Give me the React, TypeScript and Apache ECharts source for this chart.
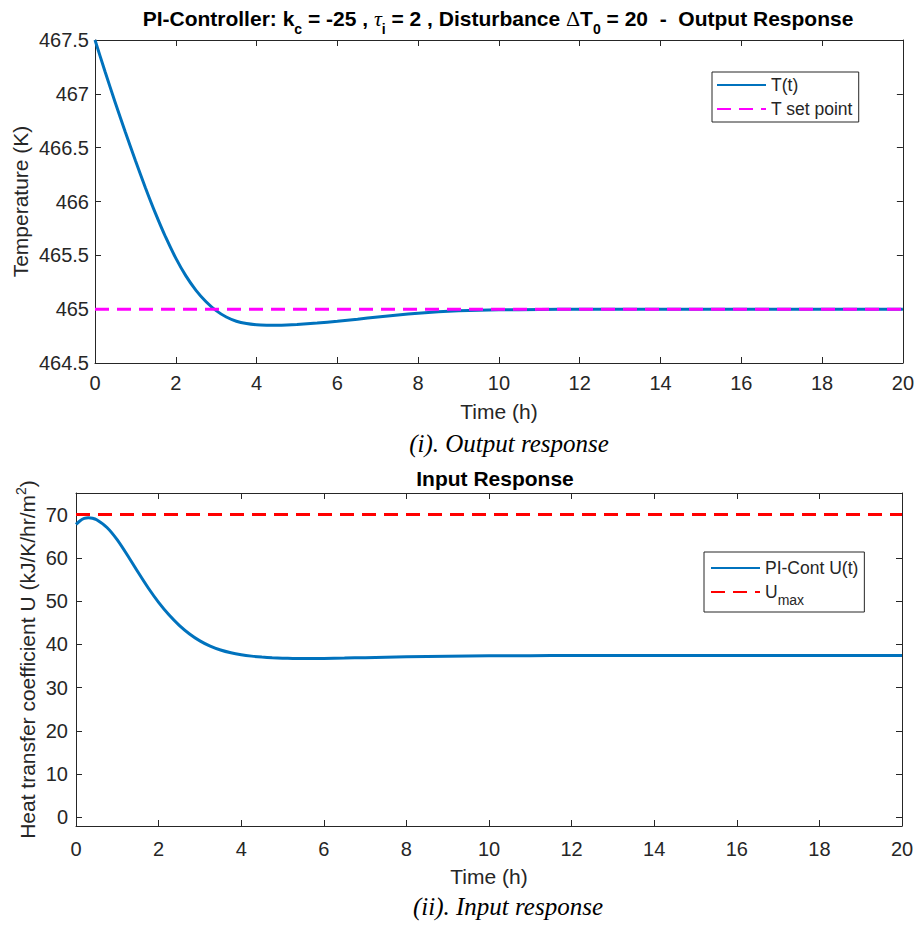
import React, { useEffect, useRef } from "react";
import * as echarts from "echarts";

// ---- data ----
const timeT = [0, 0.25, 0.5, 0.75, 1, 1.25, 1.5, 1.75, 2, 2.25, 2.5, 2.75, 3, 3.25, 3.5, 3.75, 4, 4.25, 4.5, 4.75, 5, 5.5, 6, 6.5, 7, 7.5, 8, 8.5, 9, 9.5, 10, 11, 12, 14, 16, 18, 20];
const tempT = [467.5, 467.205, 466.92, 466.645, 466.38, 466.126, 465.887, 465.668, 465.474, 465.309, 465.175, 465.069, 464.986, 464.927, 464.888, 464.866, 464.855, 464.851, 464.85, 464.852, 464.857, 464.871, 464.888, 464.907, 464.927, 464.946, 464.963, 464.976, 464.985, 464.991, 464.994, 464.997, 464.999, 465.0, 465.0, 465.0, 465.0];
const setPointT = [0, 20];
const setPointVal = [465, 465];

const timeU = [0, 0.1, 0.2, 0.3, 0.4, 0.5, 0.75, 1.0, 1.25, 1.5, 1.75, 2.0, 2.25, 2.5, 2.75, 3.0, 3.25, 3.5, 3.75, 4.0, 4.25, 4.5, 4.75, 5.0, 5.25, 5.5, 5.75, 6.0, 6.5, 7.0, 7.5, 8, 9, 10, 11, 12, 14, 16, 18, 20];
const valU = [67.75, 68.6, 69.125, 69.3, 69.175, 68.81, 67.02, 64.15, 60.55, 56.72, 53.03, 49.71, 46.835, 44.41, 42.41, 40.81, 39.585, 38.685, 38.05, 37.6, 37.28, 37.055, 36.9, 36.8, 36.744, 36.72, 36.725, 36.75, 36.83, 36.93, 37.04, 37.14, 37.28, 37.36, 37.39, 37.4, 37.4, 37.4, 37.4, 37.4];
const uMaxT = [0, 20];
const uMaxVal = [70, 70];

const uTicks = [0, 10, 20, 30, 40, 50, 60, 70];

const FONT = "'Liberation Sans', Arial, Helvetica, sans-serif";
const SERIF = "'Liberation Serif', 'Times New Roman', serif";
const AX = "#262626";

function xAxisDef(gridIndex: number, main: boolean, gap: number, margin: number) {
  return {
    type: "value",
    gridIndex,
    min: 0,
    max: 20,
    interval: 2,
    position: main ? "bottom" : "top",
    axisLine: { show: true, onZero: false, lineStyle: { color: AX, width: 1 } },
    axisTick: { show: true, inside: true, length: 6, lineStyle: { color: AX, width: 1 } },
    axisLabel: { show: main, margin, fontSize: 20, color: AX, fontFamily: FONT },
    splitLine: { show: false },
    name: main ? "Time (h)" : "",
    nameLocation: "middle",
    nameGap: gap,
    nameMoveOverlap: false,
    nameTextStyle: { fontSize: 21, color: AX, fontFamily: FONT, lineHeight: 22 },
  };
}

export default function App() {
  const ref = useRef<HTMLDivElement>(null);

  useEffect(() => {
    document.body.style.margin = "0";
    const chart = echarts.init(ref.current!, null, { renderer: "svg" });

    const subStyle = (pad: number) => ({
      fontSize: 14,
      fontWeight: "bold",
      fontFamily: FONT,
      color: "#000",
      lineHeight: 24,
      verticalAlign: "middle",
      padding: [pad, 0, 0, 0],
    });

    const legendBase = {
      orient: "vertical",
      itemWidth: 49,
      itemHeight: 12,
      borderColor: AX,
      borderWidth: 1,
      borderRadius: 0,
      backgroundColor: "#fff",
      itemStyle: { opacity: 0 },
    };

    const option: any = {
      animation: false,
      backgroundColor: "#fff",
      title: [
        {
          text:
            "{a|PI-Controller: k}{s|c}{a| = -25 , }{g|τ}{s|i}{a| = 2 , Disturbance }{d|Δ}{a|T}{s|0}{a| = 20  -  Output Response}",
          left: 498,
          top: 6,
          padding: 0,
          textAlign: "center",
          textStyle: {
            fontSize: 21,
            fontWeight: "bold",
            fontFamily: FONT,
            color: "#000",
            lineHeight: 24,
            rich: {
              a: { fontSize: 21, fontWeight: "bold", fontFamily: FONT, color: "#000", lineHeight: 24, verticalAlign: "middle" },
              s: subStyle(22),
              g: { fontSize: 22, fontStyle: "italic", fontWeight: "normal", fontFamily: SERIF, color: "#000", lineHeight: 24, verticalAlign: "middle" },
              d: { fontSize: 22, fontWeight: "normal", fontFamily: SERIF, color: "#000", lineHeight: 24, verticalAlign: "middle" },
            },
          },
        },
        {
          text: "Input Response",
          left: 495,
          top: 466,
          padding: 0,
          textAlign: "center",
          textStyle: { fontSize: 21, fontWeight: "bold", fontFamily: FONT, color: "#000", lineHeight: 24 },
        },
      ],
      grid: [
        { left: 94, top: 40, width: 809, height: 323, containLabel: false },
        { left: 76, top: 493, width: 826, height: 333, containLabel: false },
      ],
      xAxis: [
        xAxisDef(0, true, 37, 10),
        xAxisDef(0, false, 0, 0),
        xAxisDef(1, true, 39, 13),
        xAxisDef(1, false, 0, 0),
      ],
      yAxis: [
        {
          type: "value",
          gridIndex: 0,
          min: 464.5,
          max: 467.5,
          interval: 0.5,
          position: "left",
          axisLine: { show: true, onZero: false, lineStyle: { color: AX, width: 1 } },
          axisTick: { show: true, inside: true, length: 6, lineStyle: { color: AX } },
          axisLabel: { margin: 6, fontSize: 20, color: AX, fontFamily: FONT },
          splitLine: { show: false },
          name: "Temperature (K)",
          nameLocation: "middle",
          nameGap: 63,
          nameMoveOverlap: false,
          nameTextStyle: { fontSize: 21, color: AX, fontFamily: FONT, lineHeight: 24 },
        },
        {
          type: "value",
          gridIndex: 0,
          min: 464.5,
          max: 467.5,
          interval: 0.5,
          position: "right",
          axisLine: { show: true, onZero: false, lineStyle: { color: AX, width: 1 } },
          axisTick: { show: true, inside: true, length: 6, lineStyle: { color: AX } },
          axisLabel: { show: false },
          splitLine: { show: false },
        },
        {
          type: "value",
          gridIndex: 1,
          min: -2,
          max: 75,
          position: "left",
          axisLine: { show: true, onZero: false, lineStyle: { color: AX, width: 1 } },
          axisTick: { show: true, inside: true, length: 6, lineStyle: { color: AX }, customValues: uTicks },
          axisLabel: { margin: 8, fontSize: 20, color: AX, fontFamily: FONT, customValues: uTicks },
          splitLine: { show: false },
          name: "{a|Heat transfer coefficient U (kJ/K/hr/m}{b|2}{a|)}",
          nameLocation: "middle",
          nameGap: 37,
          nameMoveOverlap: false,
          nameTextStyle: {
            fontSize: 21,
            color: AX,
            fontFamily: FONT,
            lineHeight: 24,
            rich: {
              a: { fontSize: 21, color: AX, fontFamily: FONT, lineHeight: 24, verticalAlign: "middle" },
              b: { fontSize: 14, color: AX, fontFamily: FONT, lineHeight: 24, verticalAlign: "middle", padding: [0, 0, 13, 0] },
            },
          },
        },
        {
          type: "value",
          gridIndex: 1,
          min: -2,
          max: 75,
          position: "right",
          axisLine: { show: true, onZero: false, lineStyle: { color: AX, width: 1 } },
          axisTick: { show: true, inside: true, length: 6, lineStyle: { color: AX }, customValues: uTicks },
          axisLabel: { show: false, customValues: uTicks },
          splitLine: { show: false },
        },
      ],
      legend: [
        {
          ...legendBase,
          data: ["T(t)", "T set point"],
          left: 712,
          top: 72,
          padding: [4, 6, 4, 4],
          itemGap: 6,
          itemTextGap: 3,
          textStyle: { fontSize: 17.5, lineHeight: 18, color: AX, fontFamily: FONT },
        },
        {
          ...legendBase,
          data: ["PI-Cont U(t)", "Umax"],
          left: 704,
          top: 552,
          padding: [7, 6, 5, 6],
          itemGap: 0,
          itemTextGap: 4,
          formatter: (n: string) => (n === "Umax" ? "{m|U}{s|max}" : n),
          textStyle: {
            fontSize: 17.5,
            lineHeight: 18,
            color: AX,
            fontFamily: FONT,
            rich: {
              m: { fontSize: 17.5, lineHeight: 18, color: AX, fontFamily: FONT, verticalAlign: "middle" },
              s: { fontSize: 14, lineHeight: 18, color: AX, fontFamily: FONT, verticalAlign: "middle", padding: [16, 0, 0, 0] },
            },
          },
        },
      ],
      graphic: [
        {
          type: "text",
          x: 509,
          y: 443,
          style: { text: "(i). Output response", fontSize: 25, fontStyle: "italic", fontFamily: SERIF, fill: "#000", align: "center", verticalAlign: "middle" },
        },
        {
          type: "text",
          x: 508,
          y: 906,
          style: { text: "(ii). Input response", fontSize: 25, fontStyle: "italic", fontFamily: SERIF, fill: "#000", align: "center", verticalAlign: "middle" },
        },
      ],
      series: [
        {
          type: "line",
          name: "T(t)",
          xAxisIndex: 0,
          yAxisIndex: 0,
          data: timeT.map((t, i) => [t, tempT[i]]),
          symbol: "none",
          smooth: 0.2,
          lineStyle: { color: "#0072BD", width: 3 },
          itemStyle: { color: "#0072BD" },
        },
        {
          type: "line",
          name: "T set point",
          xAxisIndex: 0,
          yAxisIndex: 0,
          data: setPointT.map((t, i) => [t, setPointVal[i]]),
          symbol: "none",
          lineStyle: { color: "#FF00FF", width: 3, type: [14, 8] },
          itemStyle: { color: "#FF00FF" },
        },
        {
          type: "line",
          name: "PI-Cont U(t)",
          xAxisIndex: 2,
          yAxisIndex: 2,
          data: timeU.map((t, i) => [t, valU[i]]),
          symbol: "none",
          smooth: 0.2,
          lineStyle: { color: "#0072BD", width: 3 },
          itemStyle: { color: "#0072BD" },
        },
        {
          type: "line",
          name: "Umax",
          xAxisIndex: 2,
          yAxisIndex: 2,
          data: uMaxT.map((t, i) => [t, uMaxVal[i]]),
          symbol: "none",
          lineStyle: { color: "#FF0000", width: 3, type: [14, 8] },
          itemStyle: { color: "#FF0000" },
        },
      ],
    };

    chart.setOption(option);
    return () => chart.dispose();
  }, []);

  return <div ref={ref} style={{ width: 917, height: 925 }} />;
}
